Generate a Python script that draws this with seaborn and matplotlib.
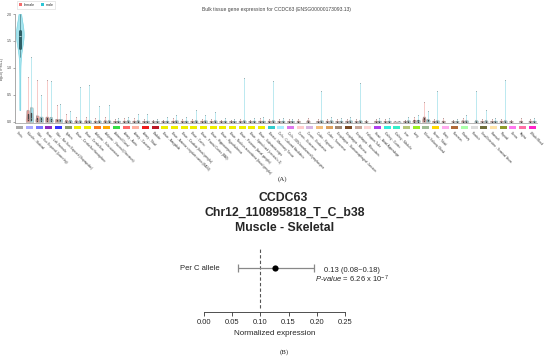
import numpy as np
import pandas as pd
import matplotlib
matplotlib.use("Agg")
import matplotlib.pyplot as plt
import matplotlib.transforms as mtransforms
from matplotlib.patches import Rectangle, Patch
import seaborn as sns

sns.set_style("white")
plt.rcParams["font.family"] = ["Liberation Sans", "DejaVu Sans"]
plt.rcParams["mathtext.fontset"] = "custom"
plt.rcParams["mathtext.rm"] = "Liberation Sans"
plt.rcParams["mathtext.it"] = "Liberation Sans:italic"

nan = np.nan

# --- Panel A data (GTEx bulk tissue expression, log10(TPM+1)) ---
tissues = [
    "Testis", "Muscle - Skeletal", "Skin - Sun Exposed (Lower leg)", "Heart - Left Ventricle",
    "Skin - Not Sun Exposed (Suprapubic)", "Spleen", "Brain - Cerebellar Hemisphere", "Brain - Cerebellum",
    "Adipose - Subcutaneous", "Adipose - Visceral (Omentum)", "Adrenal Gland", "Artery - Aorta",
    "Artery - Coronary", "Artery - Tibial", "Bladder", "Brain - Amygdala",
    "Brain - Anterior cingulate cortex (BA24)", "Brain - Caudate (basal ganglia)", "Brain - Cortex",
    "Brain - Frontal Cortex (BA9)", "Brain - Hippocampus", "Brain - Hypothalamus",
    "Brain - Nucleus accumbens (basal ganglia)", "Brain - Putamen (basal ganglia)",
    "Brain - Spinal cord (cervical c-1)", "Brain - Substantia nigra", "Breast - Mammary Tissue",
    "Cells - Cultured fibroblasts", "Cells - EBV-transformed lymphocytes", "Cervix - Ectocervix",
    "Cervix - Endocervix", "Colon - Sigmoid", "Colon - Transverse",
    "Esophagus - Gastroesophageal Junction", "Esophagus - Mucosa", "Esophagus - Muscularis",
    "Fallopian Tube", "Heart - Atrial Appendage", "Kidney - Cortex", "Kidney - Medulla", "Liver",
    "Lung", "Minor Salivary Gland", "Nerve - Tibial", "Ovary", "Pancreas", "Pituitary", "Prostate",
    "Small Intestine - Terminal Ileum", "Stomach", "Thyroid", "Uterus", "Vagina", "Whole Blood",
]
strip_colors = [
    "#AAAAAA", "#AAAAFF", "#7777FF", "#8B2BBF", "#3333FF", "#8A9A6E", "#EEEE00", "#EEEE00",
    "#FF7A1A", "#FFAA00", "#33DD44", "#FF6666", "#FFB0A0", "#EE1C1C", "#BB1A28", "#EEEE00",
    "#EEEE00", "#EEEE00", "#EEEE00", "#EEEE00", "#EEEE00", "#EEEE00", "#EEEE00", "#EEEE00",
    "#EEEE00", "#EEEE00", "#33CCCC", "#AAEEFF", "#DD77EE", "#FFCCCC", "#D8B4E2", "#F5BE7A",
    "#DDA05E", "#A08570", "#7A4A25", "#C8A698", "#FFD5D5", "#B040EE", "#33EEDD", "#33EEC8",
    "#B5C77A", "#99EE22", "#9DBB94", "#FFD700", "#FFAAEE", "#B06A3A", "#AAFFAA", "#DDDDDD",
    "#6E6E3C", "#FFE3A8", "#8E9A2A", "#FF77EE", "#FF6FA5", "#FF22C8",
]

female_med = [nan, 0.06, 0.04, 0.04, 0.02, 0.01, 0.01, 0.01, 0.01, 0.01, 0.01, 0.01, 0.01, 0.01,
              0.01, 0.01, 0.01, 0.01, 0.01, 0.01, 0.01, 0.01, 0.01, 0.01, 0.01, 0.01, 0.01, 0.01,
              0.01, 0.01, 0.01, 0.01, 0.01, 0.01, 0.01, 0.01, 0.01, 0.01, 0.01, 0.005, 0.01, 0.015,
              0.03, 0.01, 0.01, 0.01, 0.01, nan, 0.01, 0.01, 0.01, 0.01, 0.01, 0.01]
female_q3 = [nan, 0.22, 0.12, 0.10, 0.06, 0.04, 0.03, 0.03, 0.025, 0.03, 0.02, 0.025, 0.025, 0.02,
             0.015, 0.02, 0.025, 0.025, 0.025, 0.025, 0.02, 0.02, 0.02, 0.025, 0.02, 0.025, 0.025,
             0.02, 0.02, 0.025, 0.03, 0.02, 0.025, 0.02, 0.025, 0.02, 0.015, 0.025, 0.02, 0.01,
             0.02, 0.04, 0.10, 0.025, 0.025, 0.015, 0.03, nan, 0.02, 0.02, 0.025, 0.02, 0.025, 0.025]
female_max = [nan, 0.83, 0.78, 0.78, 0.31, 0.14, 0.10, 0.10, 0.07, 0.10, 0.06, 0.07, 0.08, 0.05,
              0.03, 0.04, 0.07, 0.06, 0.06, 0.06, 0.05, 0.04, 0.04, 0.06, 0.04, 0.07, 0.06, 0.05,
              0.05, 0.06, 0.08, 0.05, 0.06, 0.05, 0.06, 0.05, 0.03, 0.06, 0.05, 0.015, 0.04, 0.10,
              0.37, 0.06, 0.07, 0.03, 0.08, nan, 0.05, 0.05, 0.06, 0.04, 0.07, 0.06]

male_med = [nan, 0.07, 0.04, 0.03, 0.02, 0.01, 0.01, 0.01, 0.01, 0.01, 0.01, 0.01, 0.01, 0.01,
            0.01, 0.01, 0.01, 0.01, 0.01, 0.01, 0.01, 0.01, 0.01, 0.01, 0.01, 0.01, 0.01, 0.01,
            0.01, nan, nan, 0.01, 0.01, 0.01, 0.01, 0.01, nan, 0.01, 0.01, 0.005, 0.01, 0.015,
            0.02, 0.01, nan, 0.01, 0.01, 0.01, 0.01, 0.01, 0.01, nan, nan, 0.01]
male_q3 = [nan, 0.27, 0.10, 0.09, 0.06, 0.04, 0.03, 0.03, 0.03, 0.03, 0.025, 0.03, 0.03, 0.025,
           0.02, 0.025, 0.03, 0.025, 0.03, 0.03, 0.03, 0.025, 0.02, 0.03, 0.025, 0.025, 0.03,
           0.025, 0.02, nan, nan, 0.03, 0.03, 0.025, 0.03, 0.03, nan, 0.025, 0.025, 0.012,
           0.03, 0.04, 0.05, 0.03, nan, 0.02, 0.03, 0.03, 0.03, 0.025, 0.03, nan, nan, 0.025]
male_max = [nan, 1.20, 0.50, 0.76, 0.34, 0.20, 0.65, 0.69, 0.30, 0.31, 0.08, 0.10, 0.15, 0.14,
            0.05, 0.10, 0.12, 0.10, 0.22, 0.12, 0.18, 0.08, 0.06, 0.82, 0.08, 0.10, 0.76, 0.08,
            0.05, nan, nan, 0.58, 0.10, 0.07, 0.10, 0.72, nan, 0.07, 0.07, 0.02, 0.10, 0.12,
            0.20, 0.58, nan, 0.06, 0.12, 0.58, 0.22, 0.07, 0.78, nan, nan, 0.08]

# testis (male only)
testis_male = [0.22, 0.55, 0.9, 1.2, 1.35, 1.45, 1.5, 1.55, 1.58, 1.6, 1.62, 1.64, 1.66, 1.7,
               1.74, 1.8, 1.88, 2.0]

# --- Panel B data (single-tissue eQTL) ---
effect = 0.126
ci_low, ci_high = 0.06, 0.195
ref_line = 0.10
b_ticks = [0.00, 0.05, 0.10, 0.15, 0.20, 0.25]

female_fill, female_edge = "#F7A9A3", "#EE8A84"
male_fill, male_edge = "#A6E4EE", "#6ACFDF"

# long-form table for violin bodies
rows = []
for i, t in enumerate(tissues):
    for sex, med, q3 in (("female", female_med[i], female_q3[i]), ("male", male_med[i], male_q3[i])):
        if np.isnan(med):
            continue
        for v in (0.0, med, q3):
            rows.append((t, sex, v))
body_df = pd.DataFrame(rows, columns=["tissue", "sex", "value"])
testis_df = pd.DataFrame({"tissue": tissues[0], "value": testis_male})

fig = plt.figure(figsize=(5.5, 3.57), dpi=100)

# ---------------- Panel A ----------------
axA = fig.add_axes([15 / 550, 1 - 122.5 / 357, 522 / 550, 108.5 / 357])
sns.violinplot(data=body_df, x="tissue", y="value", hue="sex", order=tissues,
               hue_order=["female", "male"], palette={"female": female_fill, "male": male_fill},
               cut=0, density_norm="width", width=0.8, bw_adjust=0.9, saturation=1,
               linewidth=0.3, linecolor="#999999", inner="box",
               inner_kws=dict(box_width=1.0, whis_width=0.25, color="#444444", markersize=0.6),
               legend=False, ax=axA)
sns.violinplot(data=testis_df, x="tissue", y="value", order=tissues, color=male_fill,
               cut=0, density_norm="width", width=0.8, bw_adjust=0.7, saturation=1,
               linewidth=0.4, linecolor=male_edge, inner="box",
               inner_kws=dict(box_width=2.2, whis_width=0.4, color="#2F5F66", markersize=1.2),
               ax=axA)

# long thin tails up to the highest samples
for i in range(len(tissues)):
    for off, q3, mx, col in ((-0.2, female_q3[i], female_max[i], female_edge),
                             (0.2, male_q3[i], male_max[i], male_edge)):
        if np.isnan(mx) or mx <= q3:
            continue
        axA.vlines(i + off, q3, mx, color=col, lw=0.45, alpha=0.7)
        axA.scatter([i + off], [mx], s=0.5, color="#888888", alpha=0.6, linewidths=0)

axA.set_xlim(-0.5, len(tissues) - 0.5)
axA.set_ylim(-0.01, 2.0)
axA.set_yticks([0, 0.5, 1.0, 1.5, 2.0])
axA.set_yticklabels(["0.0", "0.5", "1.0", "1.5", "2.0"], fontsize=2.6, color="#444444")
axA.set_xticks(range(len(tissues)))
axA.set_xticklabels([])
axA.tick_params(axis="y", length=1.5, width=0.4, pad=1, left=True, color="#666666")
axA.tick_params(axis="x", length=1.0, width=0.3, color="#999999", bottom=True)
axA.set_xlabel("")
axA.set_ylabel("log10(TPM+1)", fontsize=2.6, labelpad=2, color="#444444")
for s in ["top", "right"]:
    axA.spines[s].set_visible(False)
axA.spines["left"].set_color("#888888")
axA.spines["left"].set_linewidth(0.5)
axA.spines["bottom"].set_color("#AAAAAA")
axA.spines["bottom"].set_linewidth(0.6)

blend = mtransforms.blended_transform_factory(axA.transData, axA.transAxes)
for i, (t, c) in enumerate(zip(tissues, strip_colors)):
    axA.add_patch(Rectangle((i - 0.37, -0.064), 0.74, 0.032, transform=blend,
                            facecolor=c, edgecolor="none", clip_on=False))
    axA.text(i - 0.15, -0.08, t, transform=blend, rotation=-45, rotation_mode="anchor",
             ha="left", va="top", fontsize=2.2, color="#333333")

handles = [Patch(facecolor="#F36D6D", edgecolor="none"), Patch(facecolor="#2CC5D5", edgecolor="none")]
leg = axA.legend(handles, ["female", "male"], loc="lower left", bbox_to_anchor=(0.001, 1.03),
                 ncol=2, fontsize=2.6, frameon=True, fancybox=False, handlelength=0.9,
                 handleheight=0.9, handletextpad=0.4, columnspacing=1.6, borderpad=0.5)
leg.get_frame().set_edgecolor("#CCCCCC")
leg.get_frame().set_linewidth(0.4)

fig.text(276 / 550, 1 - 10 / 357, "Bulk tissue gene expression for CCDC63 (ENSG00000173093.13)",
         ha="center", va="center", fontsize=3.6, color="#444444")
fig.text(283 / 550, 1 - 179 / 357, "(A)", ha="center", va="center", fontsize=5,
         family=["Liberation Serif", "DejaVu Serif"])

# ---------------- Panel B ----------------
fig.text(283 / 550, 1 - 198 / 357, "CCDC63", ha="center", va="center", fontsize=8.8, weight="bold")
fig.text(285 / 550, 1 - 213 / 357, "Chr12_110895818_T_C_b38", ha="center", va="center",
         fontsize=8.8, weight="bold")
fig.text(285 / 550, 1 - 228 / 357, "Muscle - Skeletal", ha="center", va="center",
         fontsize=8.8, weight="bold")

axB = fig.add_axes([204 / 550, 1 - 311.7 / 357, 141 / 550, 66.7 / 357])
axB.set_xlim(0, 0.25)
axB.set_ylim(0, 1)
row_y = 0.655
axB.axvline(ref_line, ymin=0.055, ymax=0.955, color="#555555", lw=0.8, ls=(0, (3, 2)))
axB.hlines(row_y, ci_low, ci_high, color="#888888", lw=0.9)
axB.vlines([ci_low, ci_high], row_y - 0.06, row_y + 0.06, color="#888888", lw=0.9)
sns.scatterplot(x=[effect], y=[row_y], color="black", s=20, ax=axB, zorder=3, linewidth=0)
axB.text(0.028, row_y, "Per C allele", ha="right", va="center", fontsize=5.5)
axB.text(0.2624, 0.625, "0.13 (0.08~0.18)", ha="center", va="center", fontsize=5.5, clip_on=False)
axB.text(0.2624, 0.49, r"$\mathit{P}$-$\mathit{value}$ = 6.26 x 10$^{-7}$", ha="center",
         va="center", fontsize=5.5, clip_on=False)

axB.set_xticks(b_ticks)
axB.set_xticklabels([f"{v:.2f}" for v in b_ticks], fontsize=5.5)
axB.set_yticks([])
axB.tick_params(axis="x", length=3, width=0.6, pad=2, bottom=True, color="#333333")
axB.set_xlabel("Normalized expression", fontsize=5.8, labelpad=3)
for s in ["top", "right", "left"]:
    axB.spines[s].set_visible(False)
axB.spines["bottom"].set_linewidth(0.6)
axB.spines["bottom"].set_color("#333333")
axB.patch.set_alpha(0)

fig.text(284 / 550, 1 - 352 / 357, "(B)", ha="center", va="center", fontsize=5,
         family=["Liberation Serif", "DejaVu Serif"])

fig.savefig("out.png", dpi=100)
